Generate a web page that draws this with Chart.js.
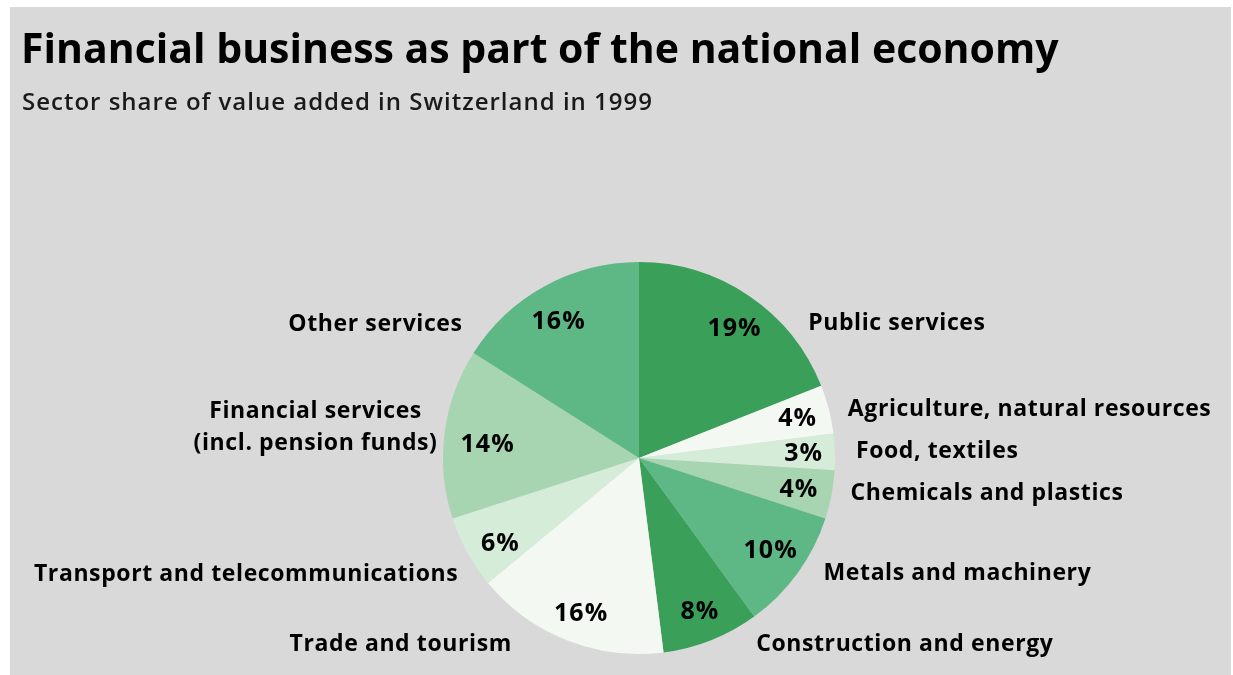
<!DOCTYPE html>
<html>
<head>
<meta charset="utf-8">
<script src="https://cdn.jsdelivr.net/npm/chart.js@4"></script>
<style>
  html, body { margin: 0; padding: 0; background: #ffffff; }
  #wrap { position: absolute; left: 0; top: 0; width: 1233px; height: 675px; }
</style>
</head>
<body>
<div id="wrap"><canvas id="c" width="1233" height="675"></canvas></div>
<script>
const titleText = "Financial business as part of the national economy";
const subtitleText = "Sector share of value added in Switzerland in 1999";
const categories = [
  "Public services",
  "Agriculture, natural resources",
  "Food, textiles",
  "Chemicals and plastics",
  "Metals and machinery",
  "Construction and energy",
  "Trade and tourism",
  "Transport and telecommunications",
  ["Financial services", "(incl. pension funds)"],
  "Other services"
];
const shares = [19, 4, 3, 4, 10, 8, 16, 6, 14, 16];
const sliceColors = [
  "#3a9f58", "#f4f8f2", "#d5ecd9", "#a7d4b1", "#5db886",
  "#3a9f58", "#f4f8f2", "#d5ecd9", "#a7d4b1", "#5db886"
];

// label placement relative to each slice's outer-edge midpoint
const outerLabelOpts = [
  { dx: 59, dy: 28, align: "left" },
  { dx: 19, dy: 0, align: "left" },
  { dx: 21, dy: 0, align: "left" },
  { dx: 19, dy: -1, align: "left" },
  { dx: 26, dy: 0, align: "left" },
  { dx: 45, dy: 4, align: "left" },
  { dx: -55, dy: 4, align: "right" },
  { dx: -9, dy: 22, align: "right" },
  { dx: -129, dy: -6, align: "center" },
  { dx: -82, dy: 38, align: "right" }
];
// small nudges of the percentage labels around the slice midpoint
const innerLabelNudge = [
  [4, 5], [1, 1], [2, 1], [0, 1], [0, -3],
  [1, 3], [2, 5], [4, 8], [10, 7], [-2, 6]
];

const bgPlugin = {
  id: "bgPlugin",
  beforeDraw(chart) {
    const ctx = chart.ctx;
    ctx.save();
    ctx.fillStyle = "#ffffff";
    ctx.fillRect(0, 0, chart.width, chart.height);
    ctx.fillStyle = "#d9d9d9";
    ctx.fillRect(10, 7, 1221, 668);
    ctx.restore();
  }
};

const textPlugin = {
  id: "textPlugin",
  afterDraw(chart) {
    const ctx = chart.ctx;
    ctx.save();
    ctx.fillStyle = "#000000";
    ctx.textBaseline = "middle";
    ctx.textAlign = "left";
    ctx.letterSpacing = "0px";
    ctx.font = "bold 41px 'Open Sans'";
    ctx.fillText(titleText, 21, 51);
    ctx.fillStyle = "#1a1a1a";
    ctx.letterSpacing = "1px";
    ctx.font = "600 24px 'Open Sans'";
    ctx.fillText(subtitleText, 22, 103);

    const meta = chart.getDatasetMeta(0);
    meta.data.forEach((arc, i) => {
      const p = arc.getProps(["x", "y", "startAngle", "endAngle", "outerRadius"], true);
      const mid = (p.startAngle + p.endAngle) / 2;
      // percentage inside
      const ri = p.outerRadius * 0.83;
      const nd = innerLabelNudge[i];
      ctx.fillStyle = "#000000";
      ctx.letterSpacing = "1px";
      ctx.font = "bold 25px 'Open Sans'";
      ctx.textAlign = "center";
      ctx.fillText(shares[i] + "%", p.x + Math.cos(mid) * ri + nd[0], p.y + Math.sin(mid) * ri + nd[1]);
      // outer label
      const o = outerLabelOpts[i];
      const ex = p.x + Math.cos(mid) * p.outerRadius + o.dx;
      const ey = p.y + Math.sin(mid) * p.outerRadius + o.dy;
      ctx.letterSpacing = "0.6px";
      ctx.font = "bold 23px 'Open Sans'";
      ctx.textAlign = o.align;
      const lab = categories[i];
      if (Array.isArray(lab)) {
        const lh = 32;
        lab.forEach((line, k) => {
          ctx.fillText(line, ex, ey + (k - (lab.length - 1) / 2) * lh);
        });
      } else {
        ctx.fillText(lab, ex, ey);
      }
    });
    ctx.restore();
  }
};

new Chart(document.getElementById("c"), {
  type: "pie",
  data: {
    labels: categories,
    datasets: [{
      data: shares,
      backgroundColor: sliceColors,
      borderWidth: 0
    }]
  },
  options: {
    responsive: false,
    animation: false,
    layout: { padding: { top: 262, bottom: 21, left: 300, right: 255 } },
    plugins: {
      legend: { display: false },
      tooltip: { enabled: false },
      title: { display: false }
    }
  },
  plugins: [bgPlugin, textPlugin]
});
</script>
</body>
</html>
